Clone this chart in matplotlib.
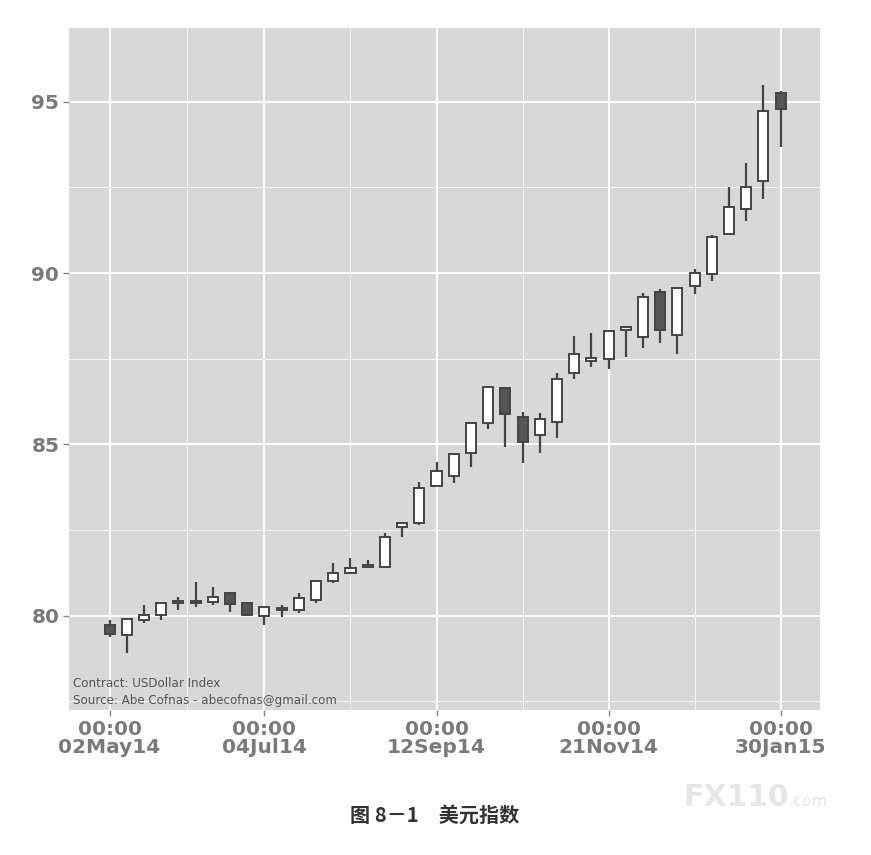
import matplotlib
matplotlib.use("Agg")
import matplotlib.pyplot as plt
import matplotlib.dates as mdates
from matplotlib.ticker import FixedLocator
import pandas as pd
import numpy as np

# ---- data (weekly candles, USDollar Index) ----
dates = pd.date_range("2014-05-02", periods=40, freq="7D")
opens = [79.74, 79.45, 79.88, 80.03, 80.36, 80.36, 80.41, 80.67, 80.38, 80.00,
         80.17, 80.18, 80.47, 81.00, 81.25, 81.42, 81.43, 82.59, 82.72, 83.79,
         84.09, 84.76, 85.63, 86.65, 85.80, 85.28, 85.66, 87.08, 87.44, 87.50,
         88.35, 88.14, 89.45, 88.20, 89.63, 89.98, 91.15, 91.88, 92.69, 95.26]
highs = [79.88, 79.94, 80.32, 80.40, 80.55, 80.99, 80.85, 80.70, 80.41, 80.26,
         80.32, 80.67, 81.05, 81.55, 81.69, 81.63, 82.42, 82.72, 83.90, 84.49,
         84.73, 85.63, 86.68, 86.65, 85.95, 85.92, 87.09, 88.17, 88.26, 88.35,
         88.45, 89.42, 89.54, 89.57, 90.13, 91.12, 92.52, 93.22, 95.50, 95.32]
lows = [79.39, 78.92, 79.80, 79.88, 80.17, 80.27, 80.32, 80.12, 80.00, 79.74,
        79.97, 80.09, 80.38, 80.97, 81.22, 81.40, 81.40, 82.30, 82.66, 83.79,
        83.88, 84.35, 85.45, 84.93, 84.46, 84.76, 85.19, 86.91, 87.27, 87.20,
        87.56, 87.82, 87.97, 87.65, 89.40, 89.78, 91.15, 91.53, 92.17, 93.69]
closes = [79.47, 79.91, 80.03, 80.38, 80.38, 80.38, 80.55, 80.35, 80.02, 80.26,
          80.19, 80.53, 81.02, 81.25, 81.40, 81.44, 82.31, 82.72, 83.73, 84.23,
          84.73, 85.63, 86.68, 85.89, 85.08, 85.75, 86.92, 87.64, 87.53, 88.32,
          88.43, 89.31, 88.35, 89.57, 90.01, 91.06, 91.93, 92.52, 94.74, 94.79]

tick_dates = ["2014-05-02", "2014-07-04", "2014-09-12", "2014-11-21", "2015-01-30"]
tick_labels = ["00:00\n02May14", "00:00\n04Jul14", "00:00\n12Sep14",
               "00:00\n21Nov14", "00:00\n30Jan15"]
y_ticks = [80, 85, 90, 95]

# ---- figure ----
fig = plt.figure(figsize=(8.71, 8.55), dpi=100)
fig.patch.set_facecolor("white")
ax = fig.add_axes([69/871, 1-710/855, (820-69)/871, (710-28)/855])
ax.set_facecolor("#d8d8d8")
for s in ax.spines.values():
    s.set_visible(False)

x = mdates.date2num(dates.to_pydatetime())
o = np.array(opens); h = np.array(highs); l = np.array(lows); c = np.array(closes)
bull = c >= o
edge = "#444444"
ax.vlines(x, l, h, color=edge, lw=1.6, zorder=3)
bottom = np.minimum(o, c)
height = np.maximum(np.abs(c - o), 0.06)
face = np.where(bull, "white", "#555555")
ax.bar(x, height, bottom=bottom, width=4.1, color=face, edgecolor=edge,
       linewidth=1.4, zorder=4)

tx = mdates.date2num(pd.to_datetime(tick_dates).to_pydatetime())
ax.set_xlim(tx[0] - 16.5, tx[-1] + 16)
ax.set_ylim(77.25, 97.15)
ax.xaxis.set_major_locator(FixedLocator(tx))
ax.set_xticklabels(tick_labels)
minor_x = (tx[:-1] + tx[1:]) / 2
ax.xaxis.set_minor_locator(FixedLocator(minor_x))
ax.yaxis.set_major_locator(FixedLocator(y_ticks))
ax.yaxis.set_minor_locator(FixedLocator([77.5, 82.5, 87.5, 92.5]))
ax.set_yticklabels([str(v) for v in y_ticks])

ax.grid(which="major", color="white", lw=1.4, zorder=0)
ax.grid(which="minor", color="white", lw=0.7, alpha=0.7, zorder=0)
ax.set_axisbelow(True)
ax.tick_params(which="major", length=4, width=1, color="#888888",
               labelcolor="#7a7a7a", labelsize=14.5, pad=3)
ax.tick_params(which="minor", length=0)
for lab in ax.get_xticklabels() + ax.get_yticklabels():
    lab.set_fontweight("bold")
    lab.set_linespacing(0.95)

ax.text(0.005, 0.029, "Contract: USDollar Index", transform=ax.transAxes,
        fontsize=8.6, color="#555555", ha="left", va="bottom")
ax.text(0.005, 0.004, "Source: Abe Cofnas - abecofnas@gmail.com",
        transform=ax.transAxes, fontsize=8.6, color="#555555",
        ha="left", va="bottom")

fig.text(435/871, 1-815/855, "图 8－1　美元指数", ha="center", va="center",
         fontsize=14.5, fontweight="bold", color="#333333",
         family=["Noto Sans CJK SC", "DejaVu Sans"])
fig.text(683/871, 1-797/855, "FX110", ha="left", va="center",
         fontsize=21.5, fontweight="bold", color="#e6e6e6")
fig.text(788/871, 1-801/855, ".com", ha="left", va="center",
         fontsize=11.5, color="#e6e6e6")

fig.savefig("out.png", dpi=100, facecolor="white")
